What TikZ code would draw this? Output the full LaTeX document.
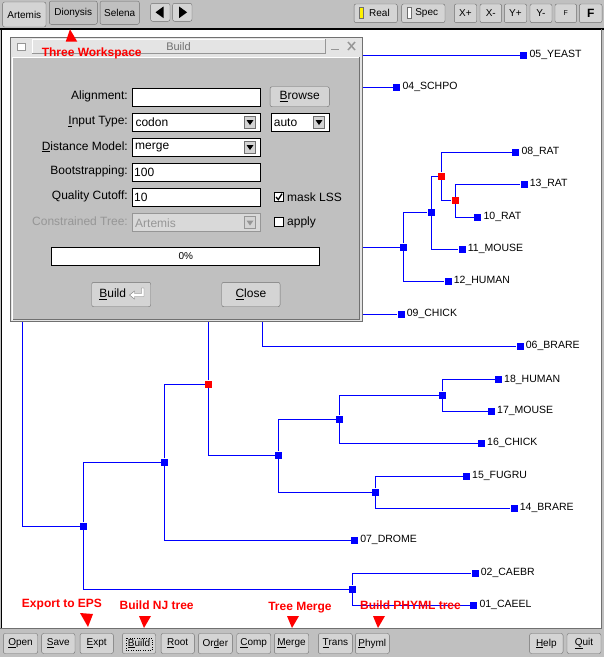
\documentclass[tikz,border=0pt]{standalone}
\usepackage{fontspec}
\setmainfont{Liberation Sans}
\usetikzlibrary{positioning}

\definecolor{wingray}{RGB}{192,192,192}
\definecolor{btngray}{RGB}{212,212,212}
\definecolor{titlegray}{RGB}{228,228,228}
\definecolor{rimgray}{RGB}{112,112,112}
\definecolor{dimgray}{RGB}{150,150,150}
\definecolor{treeblue}{RGB}{0,0,255}
\definecolor{notered}{RGB}{255,0,0}

\tikzset{
  btn/.style={draw=rimgray, fill=btngray, rounded corners=2pt, inner sep=0pt,
    minimum height=20pt, font=\fontsize{10}{12}\selectfont},
  tabbox/.style={draw=rimgray, fill=wingray, rounded corners=2pt, inner sep=0pt,
    font=\fontsize{10}{12}\selectfont},
  field/.style={draw=black, line width=1pt, fill=white, inner sep=0pt,
    minimum width=128pt, minimum height=18pt, anchor=north west},
  arrbox/.style={draw=rimgray, fill=btngray, inner sep=0pt, minimum width=11pt, minimum height=12pt},
  chk/.style={draw=black, line width=0.8pt, fill=white, inner sep=0pt, minimum size=9.5pt},
  dlbl/.style={font=\fontsize{12}{14}\selectfont, inner sep=0pt, anchor=east},
  ftxt/.style={font=\fontsize{12}{14}\selectfont, inner sep=0pt},
  sq/.style={fill=treeblue, inner sep=0pt, minimum size=7pt},
  redsq/.style={fill=notered, inner sep=0pt, minimum size=7pt},
  tlbl/.style={font=\fontsize{10.5}{12}\selectfont, inner sep=0pt, label distance=2pt},
  leaf/.style={sq, label={[tlbl]right:#1}},
  edge/.style={treeblue, line width=0.9pt},
  note/.style={text=notered, font=\bfseries\fontsize{12}{14}\selectfont, inner sep=0pt},
}

\begin{document}
\begin{tikzpicture}[x=1pt, y=-1pt]
	\useasboundingbox (0,0) rectangle (604,657);
	\fill[wingray] (0,0) rectangle (604,657);
	
	% top bar
	\node[tabbox, minimum width=43.3pt, minimum height=25pt, fill=btngray] (tArtemis) at (24.3,14.5) {Artemis};
	\node[tabbox, minimum width=48pt, minimum height=23.3pt] (tDionysis) at (73.3,12.7) {Dionysis};
	\node[tabbox, minimum width=39.3pt, minimum height=23.3pt] (tSelena) at (119.7,12.7) {Selena};
	\node[btn, minimum width=19.3pt, minimum height=18pt] (bLeft) at (160.3,12.3) {};
	\node[btn, minimum width=19.3pt, minimum height=18pt] (bRight) at (182.3,12.3) {};
	\fill (155.5,12.3) -- (163.5,6.5) -- (163.5,18.1) -- cycle;
	\fill (187.1,12.3) -- (179.1,6.5) -- (179.1,18.1) -- cycle;
	
	\node[btn, minimum width=43.3pt, minimum height=18.7pt] (bReal) at (375.7,13.3) {\kern7.6pt Real};
	\node[btn, minimum width=43.3pt, minimum height=18.7pt] (bSpec) at (423.3,13.3) {\kern6.8pt Spec};
	\draw[rimgray, fill=yellow] (359.3,7.3) rectangle (363.3,17.7);
	\draw[rimgray, fill=white] (407.3,7.3) rectangle (411.3,17.7);
	\node[btn, minimum width=22.4pt, minimum height=18.7pt] (bXp) at (465.5,13.3) {X+};
	\node[btn, minimum width=21.7pt, minimum height=18.7pt] (bXm) at (490.8,13.3) {X-};
	\node[btn, minimum width=22.4pt, minimum height=18.7pt] (bYp) at (515.5,13.3) {Y+};
	\node[btn, minimum width=22pt, minimum height=18.7pt] (bYm) at (541,13.3) {Y-};
	\node[btn, minimum width=21.7pt, minimum height=18.7pt, font=\fontsize{7}{8}\selectfont] (bFs) at (565.8,13.3) {F};
	\node[btn, minimum width=22.7pt, minimum height=18.7pt, font=\bfseries\fontsize{12}{14}\selectfont] (bFb) at (590.7,13.3) {F};
	
	% canvas
	\fill[white] (2,29) rectangle (601,628.5);
	\draw[black, line width=2pt] (0,28.5) -- (604,28.5);
	\draw[black, line width=1.5pt] (1.5,28) -- (1.5,628.5);
	\draw[rimgray] (601,29) -- (601,628.5) -- (0,628.5);
	
	% tree, hidden part sits under the dialog
	\node[sq] (hR) at (22.4,150) {};
	\node[sq] (hS) at (300,71) {};
	\node[sq] (hC) at (262,290) {};
	\node[sq] (hD) at (330,280) {};
	\node[sq] (n83) at (83.3,526) {};
	\node[sq] (n164) at (164.7,462) {};
	\node[redsq] (r208) at (208.6,384) {};
	\node[sq] (n278) at (278.8,455) {};
	\node[sq] (n339) at (339.4,419) {};
	\node[sq] (n442) at (442.7,395) {};
	\node[sq] (n375) at (375.6,492) {};
	\node[sq] (n352) at (352.5,589) {};
	\node[sq] (n404) at (403.7,247) {};
	\node[sq] (n431) at (431,212.7) {};
	\node[redsq] (r441) at (441.2,176) {};
	\node[redsq] (r455) at (455,200.7) {};
	
	\node[leaf=05\_YEAST] (l05) at (523.7,55) {};
	\node[leaf=04\_SCHPO] (l04) at (396.7,87.3) {};
	\node[leaf=08\_RAT] (l08) at (515.7,152.3) {};
	\node[leaf=13\_RAT] (l13) at (524,184.3) {};
	\node[leaf=10\_RAT] (l10) at (477.7,217.3) {};
	\node[leaf=11\_MOUSE] (l11) at (462,249.3) {};
	\node[leaf=12\_HUMAN] (l12) at (448,281) {};
	\node[leaf=09\_CHICK] (l09) at (401,314) {};
	\node[leaf=06\_BRARE] (l06) at (520,346.3) {};
	\node[leaf=18\_HUMAN] (l18) at (498.3,379.7) {};
	\node[leaf=17\_MOUSE] (l17) at (491.3,411) {};
	\node[leaf=16\_CHICK] (l16) at (481.3,443.3) {};
	\node[leaf=15\_FUGRU] (l15) at (466.3,476.3) {};
	\node[leaf=14\_BRARE] (l14) at (514,508) {};
	\node[leaf=07\_DROME] (l07) at (354.4,540) {};
	\node[leaf=02\_CAEBR] (l02) at (475,573.3) {};
	\node[leaf=01\_CAEEL] (l01) at (473.6,605) {};
	
	\draw[edge] (hR) |- (hS) (hR) |- (n83)
		(hS) |- (l05) (hS) |- (l04)
		(n83) |- (n164) (n83) |- (n352)
		(n164) |- (r208) (n164) |- (l07)
		(r208) |- (hC) (r208) |- (n278)
		(hC) |- (hD) (hC) |- (l06)
		(hD) |- (n404) (hD) |- (l09)
		(n404) |- (n431) (n404) |- (l12)
		(n431) |- (r441) (n431) |- (l11)
		(r441) |- (l08) (r441) |- (r455)
		(r455) |- (l13) (r455) |- (l10)
		(n278) |- (n339) (n278) |- (n375)
		(n339) |- (n442) (n339) |- (l16)
		(n442) |- (l18) (n442) |- (l17)
		(n375) |- (l15) (n375) |- (l14)
		(n352) |- (l02) (n352) |- (l01);
	
	% build dialog
	\draw[rimgray, fill=titlegray] (10,36.7) rectangle (361.7,321);
	\draw[white, fill=titlegray] (32.3,39) rectangle (325,53.3);
	\draw[dimgray] (32.3,53.3) -- (325,53.3) -- (325,39);
	\node[text=rimgray, font=\fontsize{11}{13}\selectfont, inner sep=0pt] (dTitle) at (178.5,46.3) {Build};
	\draw[dimgray, fill=white] (16.7,42.7) rectangle (25,50);
	\draw[dimgray, line width=1.5pt] (331,49.5) -- (339,49.5);
	\draw[dimgray, line width=1.5pt] (348,42) -- (355,50) (348,50) -- (355,42);
	\draw[white, fill=wingray] (12.5,57) rectangle (359.5,319);
	\draw[rimgray] (12.5,319) -- (359.5,319) -- (359.5,57);
	
	\node[dlbl] (lAlign) at (128,96.7) {Alignment:};
	\node[field] (fAlign) at (132,88) {};
	\node[btn, minimum width=59.3pt, font=\fontsize{12}{14}\selectfont] (bBrowse) at (299.7,96.7) {\underline{B}rowse};
	
	\node[dlbl] (lInput) at (128,121.7) {\underline{I}nput Type:};
	\node[field] (fInput) at (132.3,112.7) {};
	\node[ftxt, right=3pt of fInput.west, anchor=west] (vInput) {codon};
	\node[arrbox] (aInput) at (250,122) {};
	\node[field, minimum width=58.6pt] (fAuto) at (270.7,112.7) {};
	\node[ftxt, right=3pt of fAuto.west, anchor=west] (vAuto) {auto};
	\node[arrbox] (aAuto) at (319,122) {};
	
	\node[dlbl] (lModel) at (128,146.7) {\underline{D}istance Model:};
	\node[field] (fModel) at (132,138) {};
	\node[ftxt, right=3pt of fModel.west, anchor=west] (vModel) {merge};
	\node[arrbox] (aModel) at (250,147) {};
	
	\node[dlbl] (lBoot) at (128,171.7) {Bootstrapping:};
	\node[field] (fBoot) at (132,163) {};
	\node[ftxt, right=2pt of fBoot.west, anchor=west] (vBoot) {100};
	
	\node[dlbl] (lCut) at (128,196.7) {Quality Cutoff:};
	\node[field] (fCut) at (132,188) {};
	\node[ftxt, right=2pt of fCut.west, anchor=west] (vCut) {10};
	\node[chk] (cMask) at (279,197) {};
	\node[ftxt, anchor=west] (vMask) at (287,197) {mask LSS};
	\draw[line width=1.3pt] ([shift={(-3,0)}]cMask.center) -- ++(2.3,2.6) -- ++(3.7,-6);
	
	\node[dlbl, text=dimgray] (lTree) at (128,221.7) {Constrained Tree:};
	\node[field, draw=dimgray, fill=titlegray!70!wingray] (fTree) at (132,213.3) {};
	\node[ftxt, text=dimgray, right=3pt of fTree.west, anchor=west] (vTree) {Artemis};
	\node[arrbox, draw=dimgray] (aTree) at (250,222.5) {};
	\node[chk] (cApply) at (279,222) {};
	\node[ftxt, anchor=west] (vApply) at (287,222) {apply};
	
	\fill ([shift={(-3.5,-2)}]aInput.center) -- ++(7,0) -- ++(-3.5,5) -- cycle;
	\fill ([shift={(-3.5,-2)}]aAuto.center) -- ++(7,0) -- ++(-3.5,5) -- cycle;
	\fill ([shift={(-3.5,-2)}]aModel.center) -- ++(7,0) -- ++(-3.5,5) -- cycle;
	\fill[dimgray] ([shift={(-3.5,-2)}]aTree.center) -- ++(7,0) -- ++(-3.5,5) -- cycle;
	
	\node[field, anchor=center, minimum width=268.3pt, minimum height=18.4pt, font=\fontsize{10}{12}\selectfont] (pBar) at (185.8,256.5) {0\%};
	
	\node[btn, minimum width=59pt, minimum height=24.4pt, font=\fontsize{12}{14}\selectfont] (bBuildDlg) at (121.2,294.5) {\underline{B}uild\kern17pt\relax};
	\draw[rimgray, fill=white] (129.5,295) -- (134.5,291) -- (134.5,293.5) -- (141.5,293.5)
		-- (141.5,288) -- (144,288) -- (144,296.5) -- (134.5,296.5) -- (134.5,299) -- cycle;
	\node[btn, minimum width=58.3pt, minimum height=24.4pt, font=\fontsize{12}{14}\selectfont] (bClose) at (250.9,294.5) {\underline{C}lose};
	
	% bottom bar
	\node[btn, minimum width=34.4pt] (bOpen) at (20.5,643.5) {\underline{O}pen};
	\node[btn, minimum width=33.3pt] (bSave) at (58.3,643.5) {\underline{S}ave};
	\node[btn, minimum width=33.3pt] (bExpt) at (96.7,643.5) {\underline{E}xpt};
	\node[btn, minimum width=33.4pt] (bBuild) at (139,643.5) {\underline{B}uild};
	\draw[black, dotted] (126,638) rectangle (152,650);
	\node[btn, minimum width=33.3pt] (bRoot) at (177.7,643.5) {\underline{R}oot};
	\node[btn, minimum width=34pt] (bOrder) at (215.3,643.5) {Or\underline{d}er};
	\node[btn, minimum width=34pt] (bComp) at (253.7,643.5) {\underline{C}omp};
	\node[btn, minimum width=34.4pt] (bMerge) at (291.5,643.5) {\underline{M}erge};
	\node[btn, minimum width=34pt] (bTrans) at (335.3,643.5) {\underline{T}rans};
	\node[btn, minimum width=34pt] (bPhyml) at (372.3,643.5) {\underline{P}hyml};
	\node[btn, minimum width=33.5pt] (bHelp) at (546.3,643.5) {\underline{H}elp};
	\node[btn, minimum width=34pt] (bQuit) at (584,643.5) {\underline{Q}uit};
	
	% red notes
	\node[note] (nWork) at (91.7,53.3) {Three Workspace};
	\fill[notered] (70,29.3) -- (77.3,41.7) -- (65.7,41.7) -- cycle;
	\node[note] (nEps) at (62,605) {Export to EPS};
	\node[note] (nNJ) at (156.6,605.5) {Build NJ tree};
	\node[note] (nMerge) at (300,607.5) {Tree Merge};
	\node[note] (nPhyml) at (410.5,605.5) {Build PHYML tree};
	\fill[notered] (80,613) -- (93,614) -- (88,627) -- cycle;
	\fill[notered] (139,616) -- (151,616) -- (144,628) -- cycle;
	\fill[notered] (287,616) -- (299,616) -- (292,628) -- cycle;
	\fill[notered] (373,616) -- (385,616) -- (378,628) -- cycle;
	
\end{tikzpicture}
\end{document}
